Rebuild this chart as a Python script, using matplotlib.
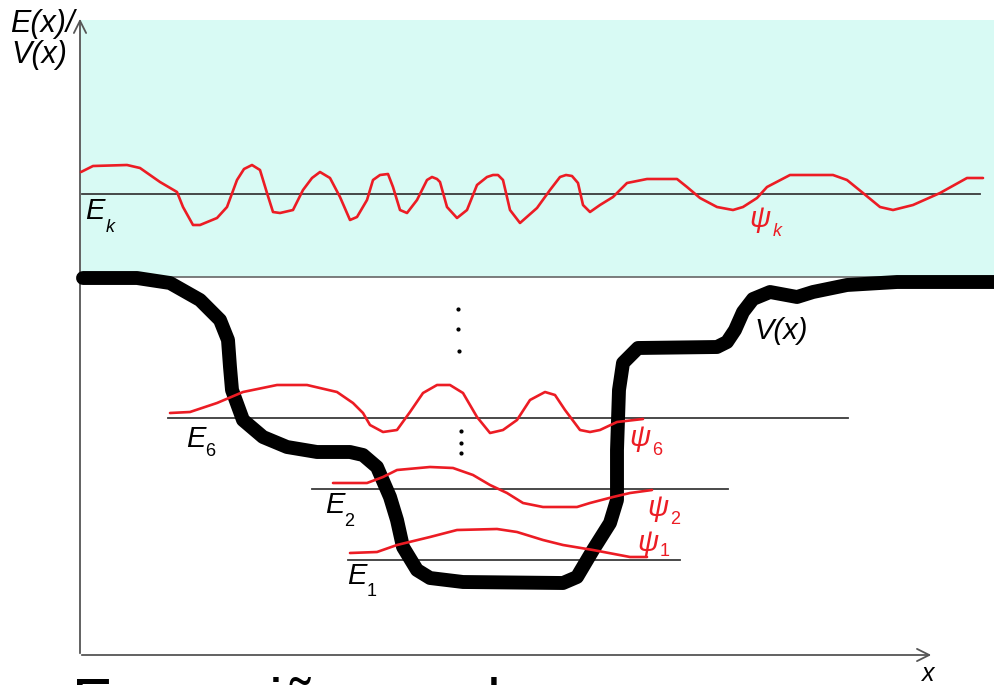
import matplotlib
matplotlib.use("Agg")
import matplotlib.pyplot as plt
from matplotlib.patches import Rectangle

# ---- data (pixel coordinates: x right, y down) ----
# potential V(x)
vx_x = [83, 137, 170, 200, 220, 228, 230, 232, 243, 263, 287, 317, 350, 363, 377, 390,
        397, 403, 417, 430, 463, 563, 577, 593, 610, 617, 617, 619, 623, 638, 717, 727,
        735, 743, 753, 770, 797, 813, 847, 897, 994]
vx_y = [278, 278, 283, 300, 320, 340, 367, 390, 420, 437, 447, 452, 452, 455, 467, 497,
        520, 547, 570, 578, 582, 583, 577, 550, 523, 500, 450, 390, 363, 348, 347, 342,
        330, 312, 299, 292, 297, 292, 285, 282, 282]

# continuum wavefunction psi_k
psik_x = [81, 93, 127, 140, 160, 177, 183, 193, 200, 217, 227, 237, 244, 252, 260, 267, 273,
          280, 293, 303, 312, 320, 330, 340, 350, 357, 367, 373, 380, 388, 393, 400, 407, 417, 427,
          432, 437, 440, 447, 457, 467, 477, 487, 493, 498, 503, 510, 520, 537, 550, 560, 566, 572, 578,
          583, 590, 600, 613, 627, 647, 677, 687, 700, 717, 733, 743, 757, 767, 790, 833,
          847, 863, 880, 893, 913, 940, 967, 983]
psik_y = [172, 166, 165, 168, 182, 192, 207, 225, 225, 218, 207, 180, 169, 165, 170, 193, 212,
          213, 210, 190, 178, 172, 178, 197, 220, 217, 200, 180, 175, 174, 187, 210, 213, 200, 180,
          177, 179, 182, 207, 218, 210, 185, 177, 175, 175, 180, 210, 223, 208, 190, 177, 175, 176, 183,
          205, 212, 205, 197, 183, 179, 179, 187, 198, 207, 210, 207, 198, 187, 175, 175,
          180, 193, 207, 210, 205, 193, 178, 178]

# bound wavefunctions
psi6_x = [170, 190, 217, 243, 277, 307, 337, 353, 363, 370, 383, 397, 410, 423, 437, 450,
          463, 477, 490, 503, 517, 530, 545, 555, 565, 580, 590, 600, 617, 643]
psi6_y = [413, 412, 403, 392, 385, 385, 392, 403, 413, 425, 432, 430, 412, 393, 385, 385,
          393, 417, 433, 430, 420, 400, 392, 395, 410, 430, 432, 430, 422, 419]
psi2_x = [333, 367, 383, 397, 430, 453, 473, 490, 507, 523, 543, 577, 590, 613, 630, 652]
psi2_y = [483, 483, 477, 470, 467, 468, 475, 485, 493, 503, 507, 507, 503, 497, 493, 490]
psi1_x = [350, 377, 397, 430, 457, 497, 517, 543, 563, 593, 630, 647]
psi1_y = [553, 552, 545, 537, 530, 529, 532, 540, 545, 550, 557, 557]

# energy levels: (y, x_start, x_end)
level_names = ["E_k", "E_6", "E_2", "E_1"]
level_y = [194, 418, 489, 560]
level_x0 = [82, 168, 312, 348]
level_x1 = [980, 848, 728, 680]

# ellipsis dots
dots_x = [458, 458, 459, 461, 461, 461]
dots_y = [309, 329, 351, 431, 443, 453]

RED = "#ec1c24"
FONT = "Liberation Sans"

fig = plt.figure(figsize=(9.94, 6.85), dpi=100)
ax = fig.add_axes([0, 0, 1, 1])
ax.set_xlim(0, 994)
ax.set_ylim(685, 0)
ax.axis("off")

# continuum region
ax.add_patch(Rectangle((81, 20), 994 - 81, 257, facecolor="#d8faf4", edgecolor="none", zorder=0))
ax.plot([81, 994], [277, 277], color="#666666", lw=1.2, zorder=1)

# axes with arrows
ax.annotate("", xy=(80, 16), xytext=(80, 656),
            arrowprops=dict(arrowstyle="->", color="#555555", lw=1.3, mutation_scale=22), zorder=1)
ax.annotate("", xy=(934, 655), xytext=(79, 655),
            arrowprops=dict(arrowstyle="->", color="#555555", lw=1.3, mutation_scale=22), zorder=1)

# energy levels
for y, x0, x1 in zip(level_y, level_x0, level_x1):
    ax.plot([x0, x1], [y, y], color="#3a3a3a", lw=1.3, zorder=2)

# potential
ax.plot(vx_x, vx_y, color="black", lw=10, solid_capstyle="round", solid_joinstyle="round", zorder=3)

# wavefunctions
for xs, ys in [(psik_x, psik_y), (psi6_x, psi6_y), (psi2_x, psi2_y), (psi1_x, psi1_y)]:
    ax.plot(xs, ys, color=RED, lw=1.9, solid_joinstyle="round", solid_capstyle="round", zorder=4)

ax.scatter(dots_x, dots_y, s=4, color="black", zorder=5)

def lab(x, y, s, size, color="black", style="italic"):
    ax.text(x, y, s, fontsize=size, color=color, family=FONT, style=style,
            ha="center", va="center", zorder=6)

# axis labels
ax.text(10, 24, "E(x)/", fontsize=22, family=FONT, style="italic", ha="left", va="center")
ax.text(11, 55, "V(x)", fontsize=22, family=FONT, style="italic", ha="left", va="center")
lab(928, 674, "x", 18)
lab(781, 331, "V(x)", 21)

# level labels
lab(95, 211, "E", 21); lab(110, 227, "k", 13)
lab(196, 439, "E", 21); lab(210, 451, "6", 13, style="normal")
lab(335, 505, "E", 21); lab(349, 521, "2", 13, style="normal")
lab(357, 576, "E", 21); lab(372, 591, "1", 13, style="normal")

# wavefunction labels
lab(760, 219, "ψ", 21, RED); lab(777, 231, "k", 13, RED)
lab(640, 438, "ψ", 21, RED); lab(657, 450, "6", 13, RED, style="normal")
lab(658, 508, "ψ", 21, RED); lab(675, 519, "2", 13, RED, style="normal")
lab(648, 543, "ψ", 21, RED); lab(665, 551, "1", 13, RED, style="normal")

# caption cut off at the bottom
ax.text(72, 721, "Em regiões onde", fontsize=44, family=FONT, ha="left", va="baseline", zorder=6)

fig.savefig("out.png", dpi=100)
